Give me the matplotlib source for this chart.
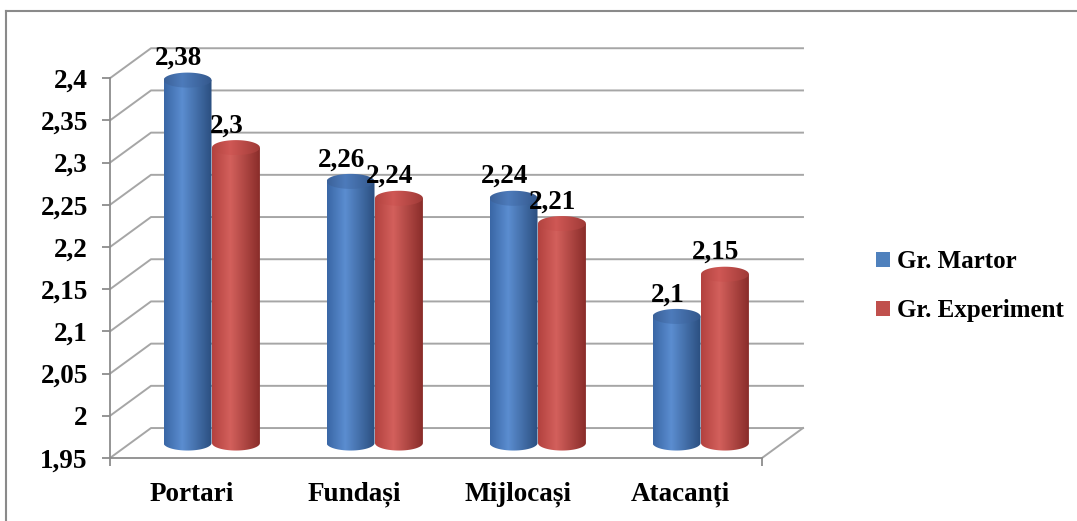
import numpy as np
import matplotlib
matplotlib.use("Agg")
import matplotlib.pyplot as plt
from matplotlib.path import Path
from matplotlib.patches import Patch, PathPatch
from matplotlib.lines import Line2D

plt.rcParams["font.family"] = ["Liberation Serif", "DejaVu Serif"]
plt.rcParams["font.weight"] = "bold"

categories = ["Portari", "Fundași", "Mijlocași", "Atacanți"]
series_names = ["Gr. Martor", "Gr. Experiment"]
martor = [2.38, 2.26, 2.24, 2.10]
experiment = [2.30, 2.24, 2.21, 2.15]
value_labels = [["2,38", "2,26", "2,24", "2,1"], ["2,3", "2,24", "2,21", "2,15"]]
yticks = [1.95, 2.0, 2.05, 2.1, 2.15, 2.2, 2.25, 2.3, 2.35, 2.4]
ytick_labels = ["1,95", "2", "2,05", "2,1", "2,15", "2,2", "2,25", "2,3", "2,35", "2,4"]

# colour stops for the shaded cylinders (left edge, highlight, right edge)
blue_stops = ["#3a67a6", "#5b8dd0", "#2b4f80"]
red_stops = ["#b3423f", "#d3605c", "#8a2d2a"]
blue_top = ["#3b629a", "#4d7bbb", "#34588c"]
red_top = ["#b34440", "#cf5855", "#a03a37"]

FS = 19.5

W, H = 1077, 521
fig = plt.figure(figsize=(W / 100, H / 100), dpi=100)

# depth offset of the 3D box (data units)
DX, DY = 0.2515, 0.0355
XMIN, XMAX = -0.5, 3.8
YMIN, YMAX = 1.95, 2.44
px_x = 163.0          # pixels per category
px_y = 42.2 / 0.05    # pixels per value unit

ax = fig.add_axes([110 / W, (H - 458) / H, (XMAX - XMIN) * px_x / W,
                   (YMAX - YMIN) * px_y / H])
ax.set_xlim(XMIN, XMAX)
ax.set_ylim(YMIN, YMAX)

grid_c = "#a6a6a6"
axis_c = "#8c8c8c"

# back wall grid lines + floor
for v in yticks:
    ax.plot([-0.5, -0.5 + DX, 3.5 + DX], [v, v + DY, v + DY],
            color=grid_c, lw=1.4, zorder=1, clip_on=False)
ax.plot([3.5, 3.5 + DX], [1.95, 1.95 + DY], color=grid_c, lw=1.4,
        zorder=1, clip_on=False)


def shade(stops, n=64):
    rgb = np.array([matplotlib.colors.to_rgb(c) for c in stops])
    pos = np.array([0.0, 0.38, 1.0])
    t = np.linspace(0, 1, n)
    out = np.stack([np.interp(t, pos, rgb[:, k]) for k in range(3)], axis=-1)
    return out[np.newaxis, :, :]


def cylinder(xc, value, body, top, hw=0.147, eh=0.0089):
    base = 1.95 + DY / 2
    ytop = value + DY / 2
    t = np.linspace(0, -np.pi, 40)
    lower = np.column_stack([xc + hw * np.cos(t), base + eh * np.sin(t)])
    verts = np.vstack([[[xc - hw, ytop], [xc + hw, ytop]], lower,
                       [[xc - hw, ytop]]])
    path = Path(verts)
    im = ax.imshow(shade(body), extent=[xc - hw, xc + hw, base - eh, ytop],
                   aspect="auto", zorder=3, interpolation="bilinear")
    im.set_clip_path(PathPatch(path, transform=ax.transData))
    tt = np.linspace(0, 2 * np.pi, 80)
    ell = Path(np.column_stack([xc + hw * np.cos(tt), ytop + eh * np.sin(tt)]))
    im2 = ax.imshow(shade(top), extent=[xc - hw, xc + hw, ytop - eh, ytop + eh],
                    aspect="auto", zorder=3, interpolation="bilinear")
    im2.set_clip_path(PathPatch(ell, transform=ax.transData))
    return ytop + eh


x = np.arange(len(categories))
for i in x:
    for s, (vals, body, top) in enumerate([(martor, blue_stops, blue_top),
                                           (experiment, red_stops, red_top)]):
        xc = i + DX / 2 + (-0.15 if s == 0 else 0.147)
        ytop = cylinder(xc, vals[i], body, top)
        ax.text(xc - 0.055, ytop + 0.002, value_labels[s][i], ha="center",
                va="bottom", fontsize=FS, fontweight="bold", zorder=5)

# axes
for side in ["top", "right"]:
    ax.spines[side].set_visible(False)
ax.spines["left"].set_bounds(1.95, 2.4)
ax.spines["bottom"].set_bounds(-0.5, 3.5)
for side in ["left", "bottom"]:
    ax.spines[side].set_color(axis_c)
    ax.spines[side].set_linewidth(1.3)
ax.set_yticks(yticks)
ax.set_yticklabels(ytick_labels)
ax.set_xticks(x)
ax.set_xticklabels(categories)
ax.set_xticks([-0.5, 3.5], minor=True)
ax.tick_params(axis="y", length=6, width=1.3, color=axis_c, pad=10,
               labelsize=FS)
ax.tick_params(axis="x", which="major", length=0, pad=17, labelsize=FS)
ax.tick_params(axis="x", which="minor", length=6, width=1.3, color=axis_c)
ax.set_facecolor("none")

# legend
handles = [Patch(facecolor="#4f81bd", edgecolor="none"),
           Patch(facecolor="#c0504d", edgecolor="none")]
fig.legend(handles, series_names, loc="center left",
           bbox_to_anchor=(876 / W, (H - 286) / H), frameon=False,
           prop={"family": "Liberation Serif", "weight": "bold", "size": 18},
           handlelength=0.55, handleheight=0.55, handletextpad=0.3,
           labelspacing=1.05, borderpad=0, borderaxespad=0)

# outer chart border (left and top only visible)
fig.add_artist(Line2D([6 / W, 6 / W], [0, (H - 11) / H], color="#8a8a8a",
                      lw=1.5, transform=fig.transFigure))
fig.add_artist(Line2D([6 / W, 1], [(H - 11) / H, (H - 11) / H],
                      color="#8a8a8a", lw=1.5, transform=fig.transFigure))

fig.savefig("out.png", dpi=100)
